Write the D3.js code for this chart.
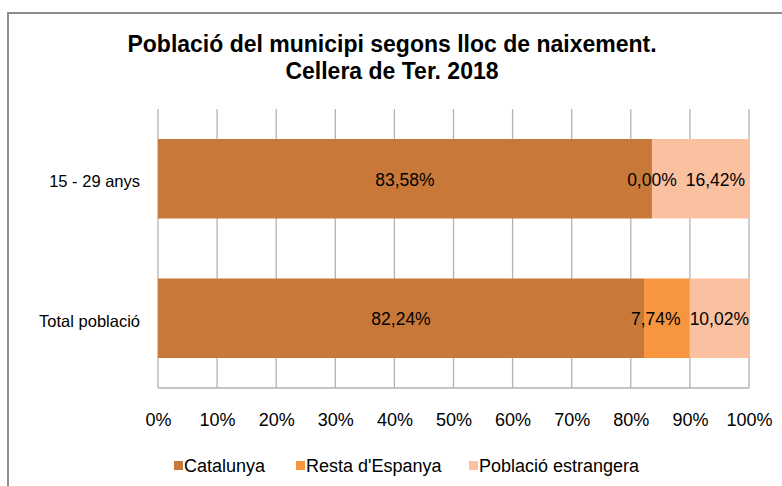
<!DOCTYPE html>
<html>
<head>
<meta charset="utf-8">
<script src="https://cdn.jsdelivr.net/npm/d3@7"></script>
<style>
  body { margin: 0; background: #fff; }
  text { font-family: "Liberation Sans", Arial, sans-serif; fill: #000; }
</style>
</head>
<body>
<div id="chart"></div>
<script>
// data
var categories = ["15 - 29 anys", "Total població"];
var seriesNames = ["Catalunya", "Resta d'Espanya", "Població estrangera"];
var catalunya = [83.58, 82.24];
var restaEspanya = [0.00, 7.74];
var estrangera = [16.42, 10.02];
var tickValues = [0, 10, 20, 30, 40, 50, 60, 70, 80, 90, 100];
var colors = ["#C8793A", "#F7963F", "#FAC0A0"];

var svgWidth = 782;
var svgHeight = 486;

var margin = { top: 109, right: 33, bottom: 98, left: 158 };
var width = svgWidth - margin.left - margin.right;
var height = svgHeight - margin.top - margin.bottom;

var svg = d3.select("#chart")
  .append("svg")
  .attr("width", svgWidth)
  .attr("height", svgHeight);

// outer chart border
svg.append("rect")
  .attr("x", 8)
  .attr("y", 13)
  .attr("width", 800)
  .attr("height", 500)
  .attr("fill", "#fff")
  .attr("stroke", "#8c8c8c")
  .attr("stroke-width", 2);

// title
var title = svg.append("text")
  .attr("text-anchor", "middle")
  .attr("font-size", 23)
  .attr("font-weight", "bold");
title.append("tspan").attr("x", 392).attr("y", 52)
  .text("Població del municipi segons lloc de naixement.");
title.append("tspan").attr("x", 392).attr("y", 79)
  .text("Cellera de Ter. 2018");

var g = svg.append("g")
  .attr("transform", `translate(${margin.left}, ${margin.top})`);

var xScale = d3.scaleLinear().domain([0, 100]).range([0, width]);
var yScale = d3.scaleBand().domain(categories).range([0, height])
  .paddingInner(0.43).paddingOuter(0.215);

// gridlines
g.selectAll(".grid")
  .data(tickValues)
  .enter()
  .append("line")
  .attr("x1", d => xScale(d))
  .attr("x2", d => xScale(d))
  .attr("y1", 0)
  .attr("y2", height)
  .attr("stroke", "#b3b3b3")
  .attr("stroke-width", 1.3);
g.append("line")
  .attr("x1", 0).attr("x2", width)
  .attr("y1", height).attr("y2", height)
  .attr("stroke", "#b3b3b3")
  .attr("stroke-width", 1.3);

// stack the series
var rows = categories.map((c, i) => ({
  cat: c,
  vals: [catalunya[i], restaEspanya[i], estrangera[i]]
}));

rows.forEach(row => {
  var x0 = 0;
  var segs = row.vals.map((v, k) => {
    var s = { cat: row.cat, k: k, v: v, x0: x0, x1: x0 + v };
    x0 += v;
    return s;
  });

  g.selectAll(null)
    .data(segs)
    .enter()
    .append("rect")
    .attr("x", d => xScale(d.x0))
    .attr("y", yScale(row.cat))
    .attr("width", d => Math.max(0, xScale(d.x1) - xScale(d.x0)))
    .attr("height", yScale.bandwidth())
    .attr("fill", d => colors[d.k]);

  // value labels, centred, then nudged apart like Excel does
  var labels = g.selectAll(null)
    .data(segs)
    .enter()
    .append("text")
    .attr("font-size", 17.5)
    .attr("y", yScale(row.cat) + yScale.bandwidth() / 2 + 1)
    .attr("dy", "0.35em")
    .text(d => d.v.toFixed(2).replace(".", ",") + "%");

  var gap = 9;
  var boxes = [];
  labels.each(function(d) {
    var w = this.getComputedTextLength();
    var c = (xScale(d.x0) + xScale(d.x1)) / 2;
    boxes.push({ s: c - w / 2, w: w });
  });
  for (var i = 1; i < boxes.length; i++) {
    var prevEnd = boxes[i - 1].s + boxes[i - 1].w;
    if (boxes[i].s < prevEnd + gap) {
      boxes[i].s = Math.min(prevEnd + gap, width - boxes[i].w);
    }
  }
  for (var j = boxes.length - 1; j > 0; j--) {
    var endPrev = boxes[j - 1].s + boxes[j - 1].w;
    if (endPrev > boxes[j].s - gap) {
      boxes[j - 1].s = boxes[j].s - gap - boxes[j - 1].w;
    }
  }
  labels.attr("x", (d, i) => boxes[i].s);
});

// category labels
g.selectAll(".catlabel")
  .data(categories)
  .enter()
  .append("text")
  .attr("class", "catlabel")
  .attr("x", -18)
  .attr("y", (d, i) => yScale(d) + yScale.bandwidth() / 2 + (i === 0 ? 2 : 3))
  .attr("dy", "0.35em")
  .attr("text-anchor", "end")
  .attr("font-size", 16.5)
  .text(d => d);

// x axis
var xAxis = d3.axisBottom(xScale)
  .tickValues(tickValues)
  .tickSize(0)
  .tickPadding(25)
  .tickFormat(d => d + "%");
var axisG = g.append("g")
  .attr("transform", `translate(0, ${height})`)
  .call(xAxis);
axisG.select(".domain").remove();
axisG.selectAll("text")
  .attr("font-size", 18)
  .attr("fill", "#000")
  .style("font-family", "'Liberation Sans', Arial, sans-serif");

// legend
var legendX = [174, 296, 469];
var legend = svg.selectAll(".legend")
  .data(seriesNames)
  .enter()
  .append("g")
  .attr("class", "legend")
  .attr("transform", (d, i) => `translate(${legendX[i]}, 466)`);
legend.append("rect")
  .attr("x", 0).attr("y", -5)
  .attr("width", 9).attr("height", 9)
  .attr("fill", (d, i) => colors[i]);
legend.append("text")
  .attr("x", 10)
  .attr("y", 0)
  .attr("dy", "0.35em")
  .attr("font-size", 18)
  .text(d => d);
</script>
</body>
</html>
